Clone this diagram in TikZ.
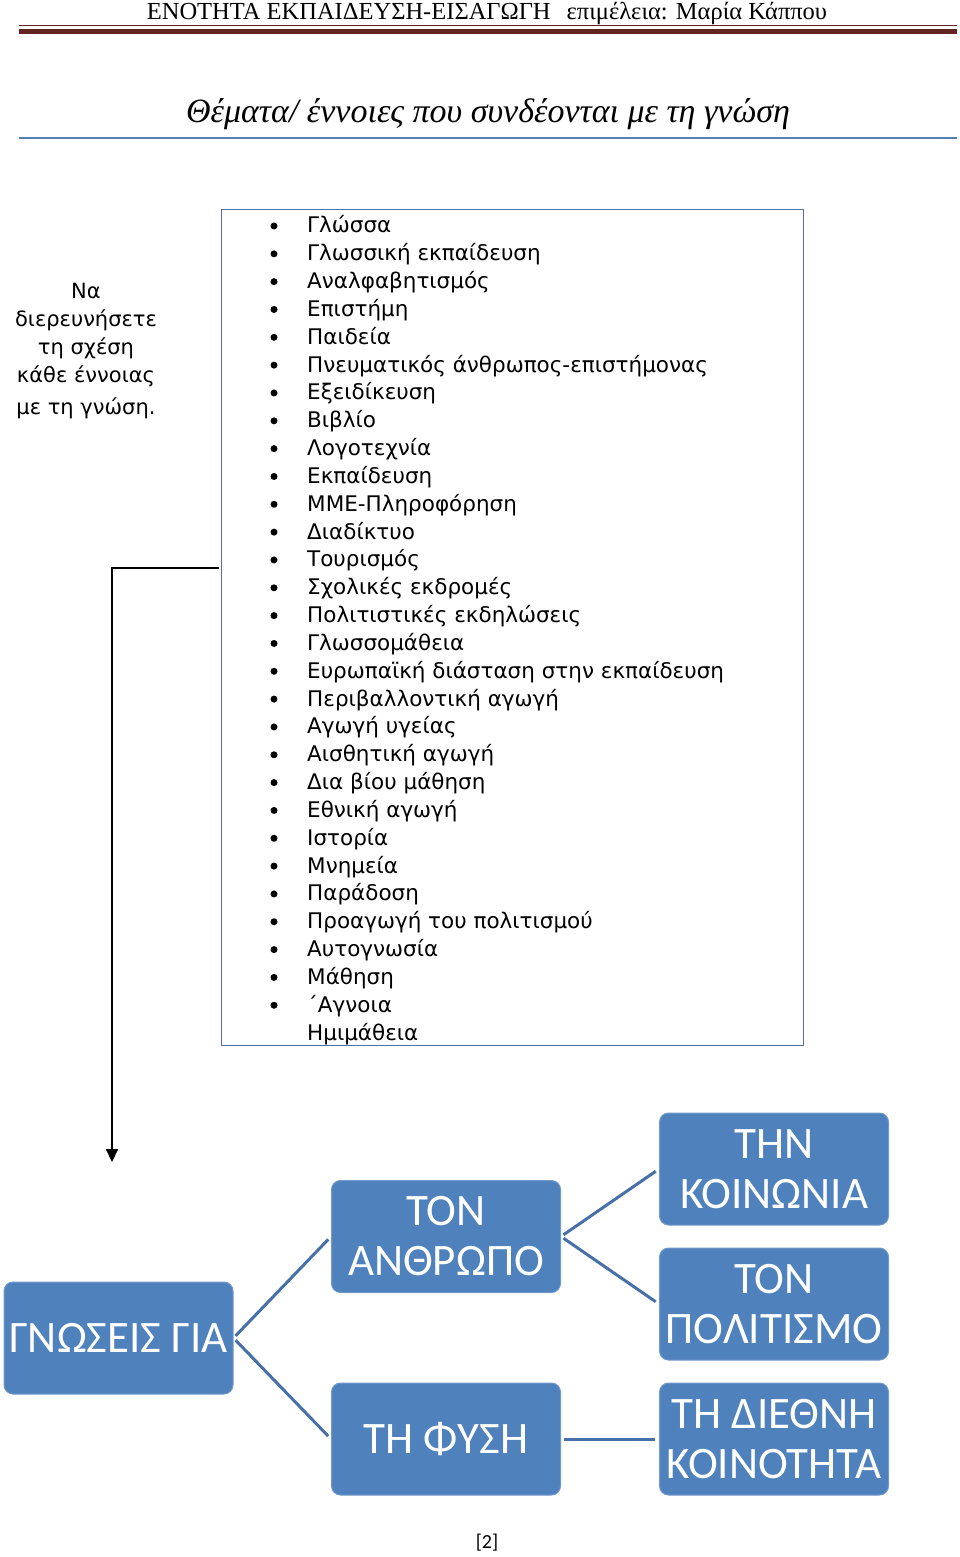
\documentclass[tikz,border=0pt]{standalone}
\usepackage{fontspec}
\setmainfont{Liberation Serif}
\newfontfamily\gothic{DejaVu Sans}
\newfontfamily\carlito{Carlito}
\usetikzlibrary{arrows.meta}
\definecolor{accent}{RGB}{79,129,189}
\definecolor{conn}{RGB}{72,112,168}
\definecolor{darkred}{RGB}{98,36,35}
\definecolor{frame}{RGB}{79,113,168}
\definecolor{rule}{RGB}{84,126,180}
\begin{document}
\begin{tikzpicture}[x=1pt,y=-1pt,
  sbox/.style={rectangle,rounded corners=9pt,fill=accent,draw=accent!80!white,line width=1pt,minimum width=229pt,minimum height=112pt,text=white,align=center,font=\carlito\fontsize{45}{50}\selectfont,inner sep=0pt},
  link/.style={conn,line width=3pt,shorten <=3pt,shorten >=4pt},
  item/.style={anchor=base west,inner sep=0pt,font=\gothic\fontsize{21.5}{25}\selectfont},
  bul/.style={circle,fill=black,inner sep=0pt,minimum size=7pt}]
\useasboundingbox (0,0) rectangle (960,1557);
% header
\node[anchor=base,inner sep=0pt,font=\fontsize{24.5}{28}\selectfont] (hdr) at (487,20) {ΕΝΟΤΗΤΑ ΕΚΠΑΙΔΕΥΣΗ-ΕΙΣΑΓΩΓΗ\hspace{16pt}επιμέλεια: Μαρία Κάππου};
\draw[darkred,line width=1pt] (19,26) -- (957,26);
\fill[darkred] (19,29) rectangle (957,34);
% title
\node[anchor=base,inner sep=0pt,font=\itshape\fontsize{34}{38}\selectfont] (title) at (488,123) {Θέματα/ έννοιες που συνδέονται με τη γνώση};
\draw[rule,line width=2.5pt] (19,138) -- (957,138);
% instruction
\node[anchor=north,align=center,inner sep=0pt,font=\gothic\fontsize{21}{28}\selectfont] (instr) at (86,283) {Να\\διερευνήσετε\\τη σχέση\\κάθε έννοιας\\[4pt]με τη γνώση.};
% list box
\node[draw=frame,line width=1.2pt,minimum width=582pt,minimum height=836pt,inner sep=0pt,anchor=north west] (listbox) at (221,209) {};
\foreach \t [count=\i from 0] in {Γλώσσα,Γλωσσική εκπαίδευση,Αναλφαβητισμός,Επιστήμη,Παιδεία,Πνευματικός άνθρωπος-επιστήμονας,Εξειδίκευση,Βιβλίο,Λογοτεχνία,Εκπαίδευση,ΜΜΕ-Πληροφόρηση,Διαδίκτυο,Τουρισμός,Σχολικές εκδρομές,Πολιτιστικές εκδηλώσεις,Γλωσσομάθεια,Ευρωπαϊκή διάσταση στην εκπαίδευση,Περιβαλλοντική αγωγή,Αγωγή υγείας,Αισθητική αγωγή,Δια βίου μάθηση,Εθνική αγωγή,Ιστορία,Μνημεία,Παράδοση,Προαγωγή του πολιτισμού,Αυτογνωσία,Μάθηση,΄Αγνοια}{
  \node[item] (it\i) at (307,{233+27.83*\i}) {\t};
  \node[bul] (b\i) at (274,{226+27.83*\i}) {};
}
\node[item] (it29) at (307,{233+27.83*29}) {Ημιμάθεια};
% arrow
\coordinate (a1) at (219,568);
\coordinate (a2) at (112,1162);
\draw[line width=2pt,-{Triangle[length=13pt,width=12pt]}] (a1) -| (a2);
% boxes
\node[sbox] (gn) at (118.5,1338) {ΓΝΩΣΕΙΣ ΓΙΑ};
\node[sbox] (an) at (446,1236.5) {ΤΟΝ\\ΑΝΘΡΩΠΟ};
\node[sbox] (fy) at (446,1439) {ΤΗ ΦΥΣΗ};
\node[sbox] (ko) at (774,1169) {ΤΗΝ\\ΚΟΙΝΩΝΙΑ};
\node[sbox] (po) at (774,1304) {ΤΟΝ\\ΠΟΛΙΤΙΣΜΟ};
\node[sbox] (di) at (774,1439) {ΤΗ ΔΙΕΘΝΗ\\ΚΟΙΝΟΤΗΤΑ};
\draw[link] (gn.east) -- (an.west);
\draw[link] (gn.east) -- (fy.west);
\draw[link] (an.east) -- (ko.west);
\draw[link] (an.east) -- (po.west);
\draw[link] (fy.east) -- (di.west);
% page number
\node[font=\carlito\fontsize{20}{24}\selectfont] (pg) at (487,1543) {[2]};
\end{tikzpicture}
\end{document}
